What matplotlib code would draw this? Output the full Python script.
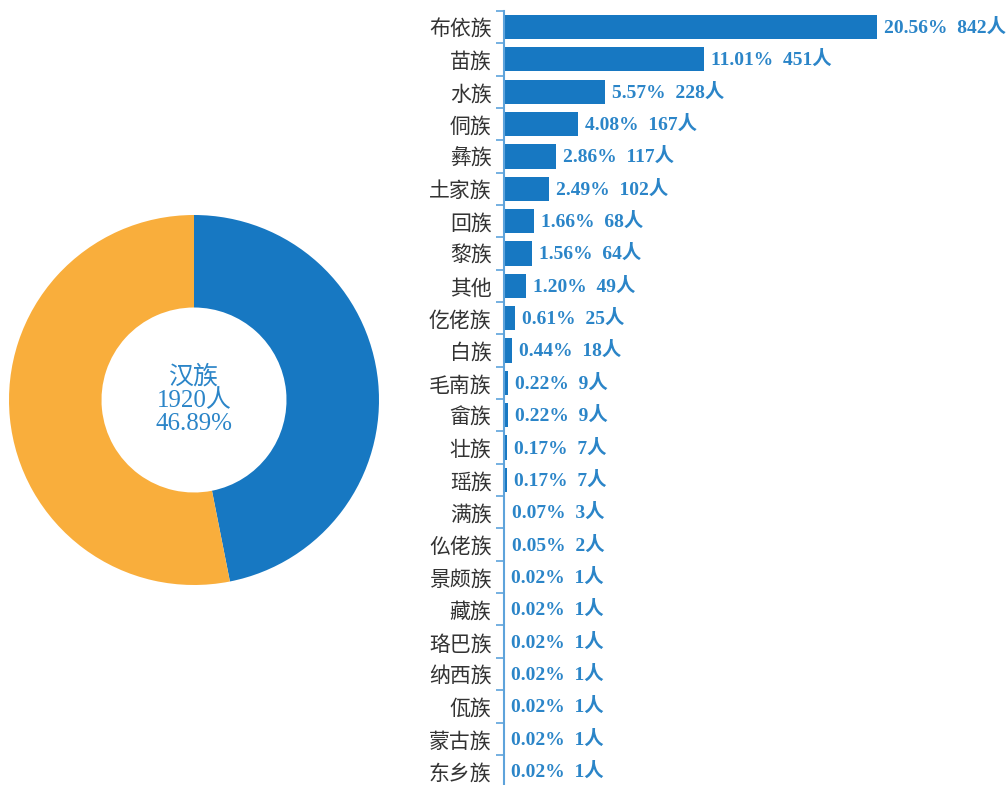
import matplotlib
matplotlib.use("Agg")
import matplotlib.pyplot as plt
from matplotlib.ticker import FixedLocator

categories = ["布依族", "苗族", "水族", "侗族", "彝族", "土家族", "回族", "黎族", "其他",
              "仡佬族", "白族", "毛南族", "畲族", "壮族", "瑶族", "满族", "仫佬族", "景颇族",
              "藏族", "珞巴族", "纳西族", "佤族", "蒙古族", "东乡族"]
counts = [842, 451, 228, 167, 117, 102, 68, 64, 49, 25, 18, 9, 9, 7, 7, 3, 2, 1, 1, 1, 1, 1, 1, 1]
percents = ["20.56%", "11.01%", "5.57%", "4.08%", "2.86%", "2.49%", "1.66%", "1.56%", "1.20%",
            "0.61%", "0.44%", "0.22%", "0.22%", "0.17%", "0.17%", "0.07%", "0.05%", "0.02%",
            "0.02%", "0.02%", "0.02%", "0.02%", "0.02%", "0.02%"]

donut_labels = ["汉族", "其他民族"]
donut_values = [46.89, 53.11]
han_count = 1920

BLUE = "#1778C2"
ORANGE = "#F9AE3C"
AXIS = "#5EA3DB"
TEXT_BLUE = "#2B85C8"

fig = plt.figure(figsize=(10.07, 7.85), dpi=100)

# Donut
axd = fig.add_axes([9/1007, 1 - 585/785, 370/1007, 370/785])
axd.pie(donut_values, colors=[BLUE, ORANGE], startangle=90, counterclock=False,
        radius=1.0, wedgeprops=dict(width=0.5, edgecolor="white", linewidth=0))
axd.set_aspect("equal")
axd.set_xlim(-1, 1)
axd.set_ylim(-1, 1)
axd.axis("off")
axd.text(0, 0, f"{donut_labels[0]}\n{han_count}人\n{donut_values[0]:.2f}%",
         ha="center", va="center", fontsize=18, color=TEXT_BLUE, linespacing=1.05,
         family=["Liberation Serif", "Noto Sans CJK SC"])

# Bars
top_px, bot_px = 10.8, 787.2
axb = fig.add_axes([504/1007, 1 - bot_px/785, 443/1007, (bot_px - top_px)/785])
n = len(categories)
ypos = list(range(n))
axb.barh(ypos, counts, height=0.75, color=BLUE)
axb.set_ylim(n - 0.5, -0.5)
axb.set_xlim(0, 1000)
axb.set_yticks(ypos)
axb.set_yticklabels(categories, family=["Noto Sans CJK SC"], fontsize=15, color="#333333")
axb.yaxis.set_minor_locator(FixedLocator([i - 0.5 for i in range(n + 1)]))
axb.tick_params(axis="y", which="major", length=0, pad=9)
axb.tick_params(axis="y", which="minor", length=6, width=1.2, color=AXIS)
axb.set_xticks([])
for s in ["top", "right", "bottom"]:
    axb.spines[s].set_visible(False)
axb.spines["left"].set_color(AXIS)
axb.spines["left"].set_linewidth(1.5)
axb.patch.set_alpha(0)

for i, (c, p) in enumerate(zip(counts, percents)):
    axb.annotate(f"{p}  {c}人", xy=(c, i), xytext=(5, -0.5), textcoords="offset points",
                 ha="left", va="center", fontsize=14, fontweight="bold", color=TEXT_BLUE,
                 family=["Liberation Serif", "Noto Sans CJK SC"])

fig.savefig("out.png", dpi=100)
